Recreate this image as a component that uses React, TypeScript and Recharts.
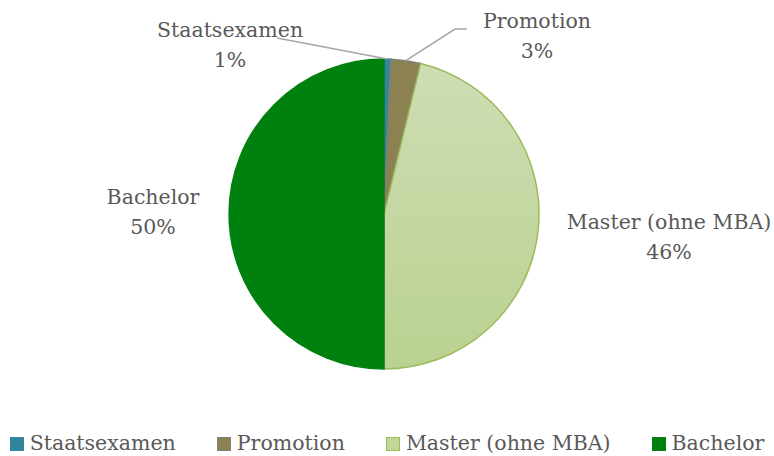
import React from 'react';
import { PieChart, Pie, Cell, Legend } from 'recharts';

// Anteile der Abschlüsse (in %)
const CATEGORIES = ['Staatsexamen', 'Promotion', 'Master (ohne MBA)', 'Bachelor'];
const SHARES = [0.7, 3.1, 46.2, 50.0];

const FILLS = ['#31859C', '#8C8150', 'url(#masterFill)', '#00800F'];
const STROKES = ['#31859C', '#7F7F7F', '#9BBB59', '#00800F'];
const LEGEND_FILLS = ['#31859C', '#8C8150', '#C4D79B', '#00800F'];
const LEGEND_STROKES = ['#31859C', '#7F7F7F', '#9BBB59', '#00800F'];

// label text offsets from pie centre, and leader line points (relative)
const LABEL_LAYOUT = [
  { dx: -154, dy: -184, line: [[-107, -176]] },
  { dx: 153, dy: -193, line: [[71, -185], [83, -185]] },
  { dx: 285, dy: 8, line: [] },
  { dx: -231, dy: -17, line: [] },
];

const FONT = '"DejaVu Serif", serif';
const TEXT = '#595959';

const data = CATEGORIES.map((name, i) => ({ name, value: SHARES[i] }));

const RAD = Math.PI / 180;

const renderLabel = (props: any) => {
  const { cx, cy, midAngle, outerRadius, index, name, value } = props;
  const lay = LABEL_LAYOUT[index];
  const sx = cx + Math.cos(-midAngle * RAD) * outerRadius;
  const sy = cy + Math.sin(-midAngle * RAD) * outerRadius;
  const pts = [[sx, sy], ...lay.line.map(([x, y]) => [cx + x, cy + y])];
  return (
    <g key={`lbl-${index}`}>
      {pts.length > 1 && (
        <polyline
          points={pts.map((p) => p.join(',')).join(' ')}
          fill="none"
          stroke="#A6A6A6"
          strokeWidth={1.5}
        />
      )}
      <text
        x={cx + lay.dx}
        y={cy + lay.dy}
        textAnchor="middle"
        dominantBaseline="central"
        fill={TEXT}
        fontFamily={FONT}
        fontSize={20.5}
      >
        {name}
      </text>
      <text
        x={cx + lay.dx}
        y={cy + lay.dy + 30}
        textAnchor="middle"
        dominantBaseline="central"
        fill={TEXT}
        fontFamily={FONT}
        fontSize={20.5}
      >
        {`${Math.round(value)}%`}
      </text>
    </g>
  );
};

const renderLegend = () => (
  <div
    style={{
      display: 'flex',
      flexWrap: 'nowrap',
      whiteSpace: 'nowrap',
      justifyContent: 'center',
      alignItems: 'flex-end',
      gap: 41,
      width: 774,
      fontFamily: FONT,
      fontSize: 20.5,
      color: TEXT,
    }}
  >
    {CATEGORIES.map((c, i) => (
      <div key={c} style={{ display: 'flex', alignItems: 'flex-end', flexShrink: 0 }}>
        <span
          style={{
            display: 'inline-block',
            width: 12,
            height: 12,
            background: LEGEND_FILLS[i],
            border: `1.5px solid ${LEGEND_STROKES[i]}`,
            marginRight: 6,
            marginBottom: 4,
          }}
        />
        <span>{c}</span>
      </div>
    ))}
  </div>
);

export default function App() {
  return (
    <div style={{ position: 'absolute', left: 0, top: 0, background: '#fff' }}>
      <PieChart width={774} height={456}>
        <defs>
          <linearGradient id="masterFill" x1="0" y1="0" x2="0" y2="1">
            <stop offset="0%" stopColor="#CFDDB4" />
            <stop offset="100%" stopColor="#BAD190" />
          </linearGradient>
        </defs>
        <Pie
          data={data}
          dataKey="value"
          nameKey="name"
          cx={379}
          cy={209}
          outerRadius={155}
          startAngle={90}
          endAngle={-270}
          label={renderLabel}
          labelLine={false}
          isAnimationActive={false}
        >
          {data.map((d, i) => (
            <Cell key={d.name} fill={FILLS[i]} stroke={STROKES[i]} strokeWidth={1.5} />
          ))}
        </Pie>
        <Legend
          content={renderLegend}
          wrapperStyle={{ position: 'absolute', top: 431, left: 0, width: 774 }}
        />
      </PieChart>
    </div>
  );
}
